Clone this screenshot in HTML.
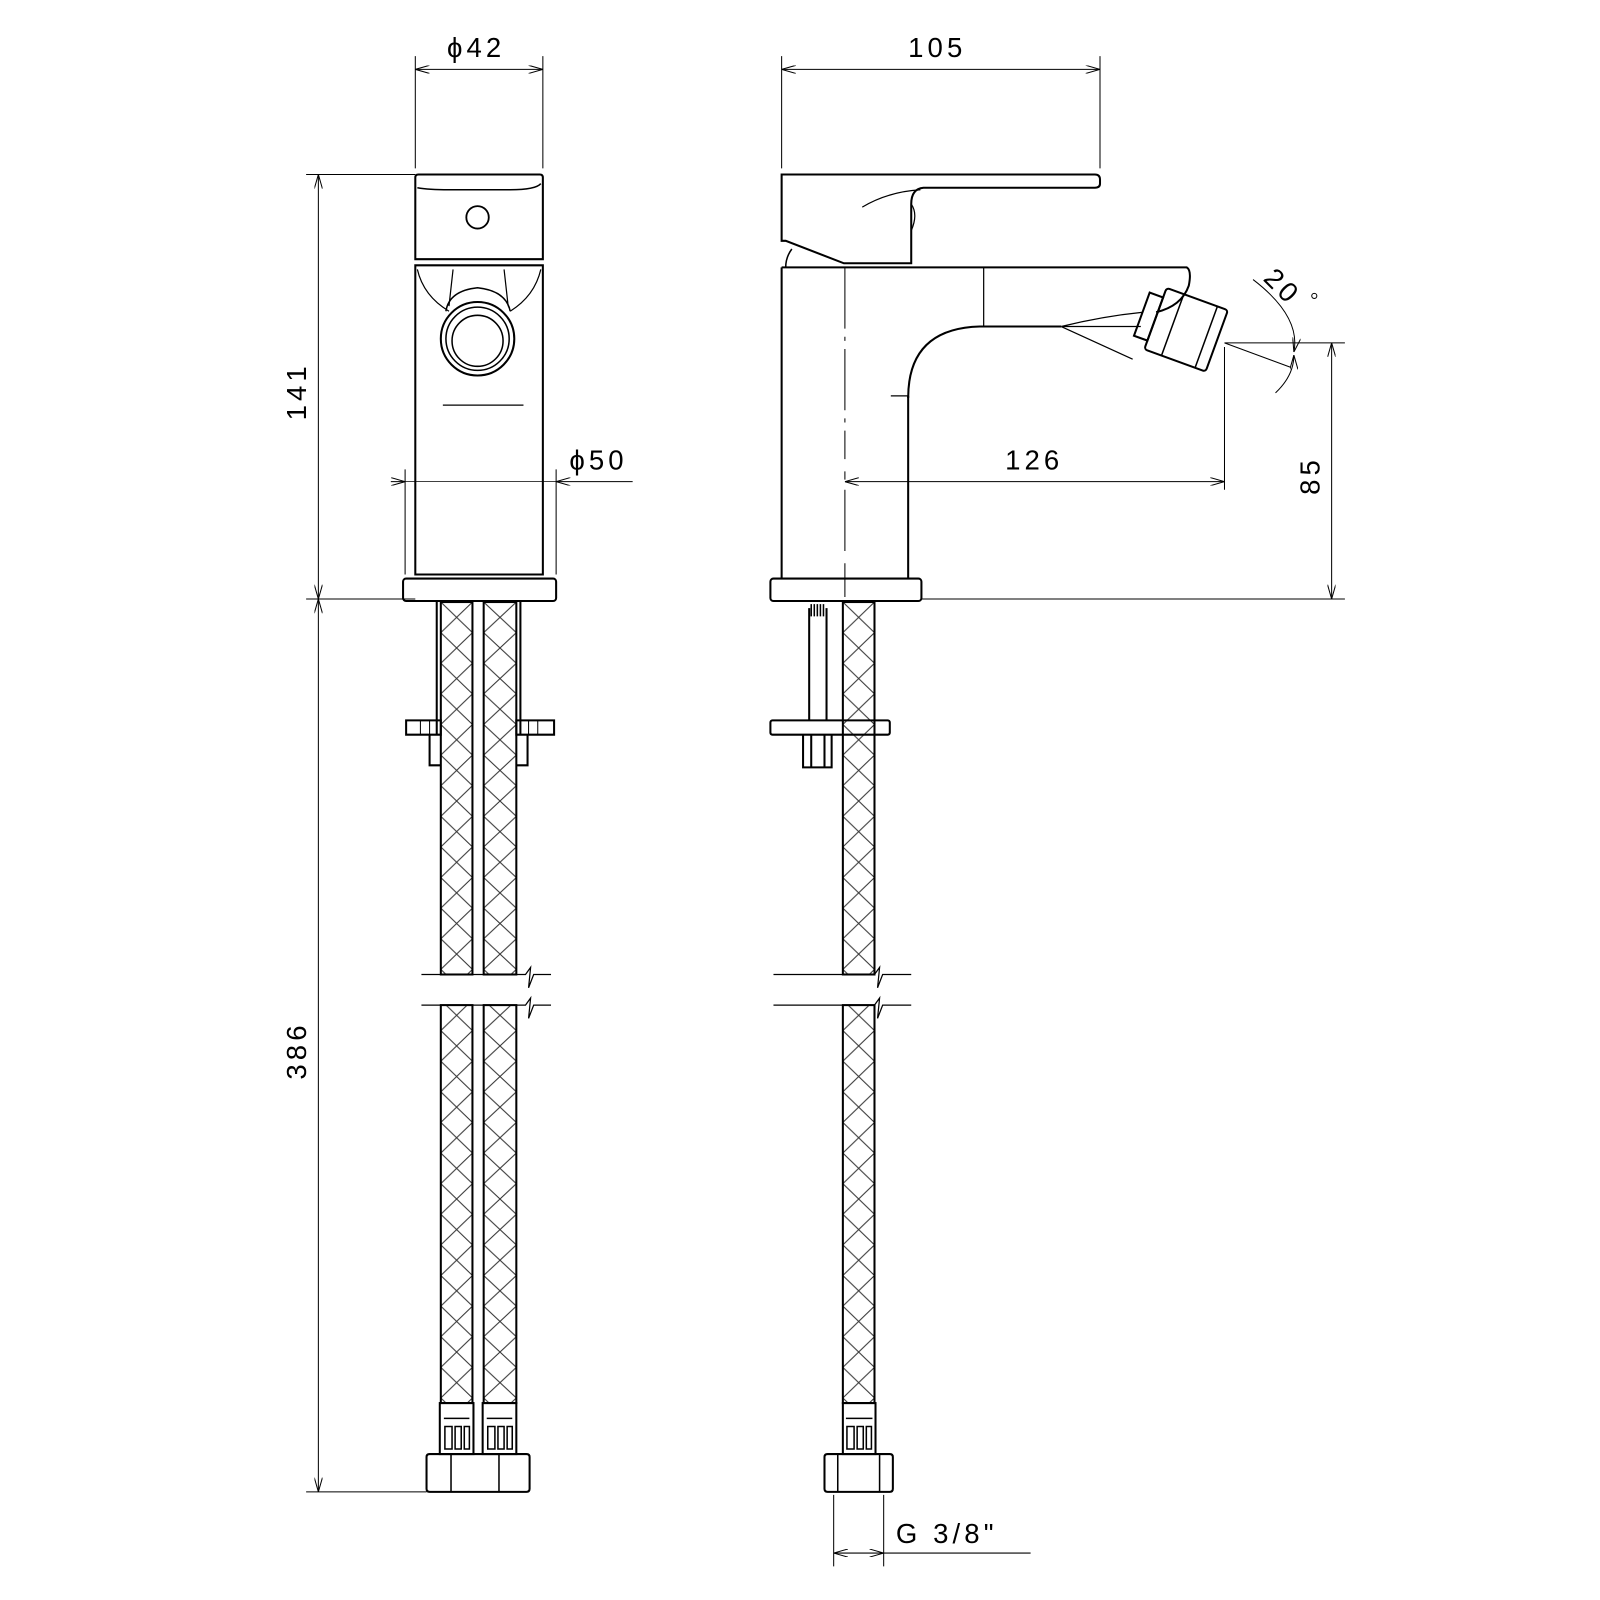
<!DOCTYPE html>
<html><head><meta charset="utf-8"><style>
html,body{margin:0;padding:0;background:#fff}
svg{display:block}
text{font-family:"Liberation Sans",sans-serif;fill:#000}
</style></head><body>
<svg width="1600" height="1600" viewBox="0 0 1568 1568" xmlns="http://www.w3.org/2000/svg">
<defs>
<pattern id="h1" x="432" y="590" width="31" height="30" patternUnits="userSpaceOnUse"><path d="M0 0L31 30M31 0L0 30" stroke="#333" stroke-width="1" fill="none"/></pattern>
<pattern id="h2" x="474" y="590" width="32" height="30" patternUnits="userSpaceOnUse"><path d="M0 0L32 30M32 0L0 30" stroke="#333" stroke-width="1" fill="none"/></pattern>
<pattern id="h3" x="826" y="590" width="31" height="30" patternUnits="userSpaceOnUse"><path d="M0 0L31 30M31 0L0 30" stroke="#333" stroke-width="1" fill="none"/></pattern>
<marker id="a" markerWidth="14" markerHeight="8" refX="14" refY="4" orient="auto" markerUnits="userSpaceOnUse"><path d="M0 0L14 4L0 8" fill="none" stroke="#000" stroke-width="1"/></marker>
<marker id="b" markerWidth="14" markerHeight="8" refX="0" refY="4" orient="auto" markerUnits="userSpaceOnUse"><path d="M14 0L0 4L14 8" fill="none" stroke="#000" stroke-width="1"/></marker>
</defs>

<g fill="none" stroke="#000" stroke-width="1.2">
<path d="M407 55V165M532 55V165" stroke-width="1"/>
<path d="M407 68H532" stroke-width="1" marker-start="url(#b)" marker-end="url(#a)"/>
<path d="M300 171H407M300 587H407M300 1462H418" stroke-width="1"/>
<path d="M312 171V587" stroke-width="1" marker-start="url(#b)" marker-end="url(#a)"/>
<path d="M312 587V1462" stroke-width="1" marker-start="url(#b)" marker-end="url(#a)"/>
<path d="M397 460V563M545 460V563" stroke-width="1"/>
<path d="M383 472H397" stroke-width="1" marker-end="url(#a)"/>
<path d="M620 472H545" stroke-width="1" marker-end="url(#a)"/>
<path d="M397 472H545" stroke-width="0.8"/>

<path d="M407 174Q407 171 410 171H529Q532 171 532 174V254H407Z" stroke-width="2"/>
<path d="M409 184Q420 186 440 186H500Q525 186 530 180" stroke-width="1.5"/>
<circle cx="468" cy="213" r="11" stroke-width="1.8"/>
<path d="M407 260H532V563H407Z" stroke-width="2"/>
<path d="M409 264Q415 290 440 305M530 264Q524 290 500 305M444 264L440 300M494 264L498 300" stroke-width="1.2"/>
<path d="M437 305Q440 285 468 282Q496 285 500 305" stroke-width="1.5"/>
<circle cx="468" cy="332" r="36" stroke-width="2"/>
<circle cx="468" cy="332" r="31" stroke-width="1.5"/>
<circle cx="468" cy="334" r="25" stroke-width="1.5"/>
<path d="M434 397H513" stroke-width="1.2"/>
<rect x="395" y="567" width="150" height="22" rx="3" stroke-width="2"/>

<rect x="432" y="590" width="31" height="365" fill="url(#h1)" stroke-width="2"/>
<rect x="474" y="590" width="32" height="365" fill="url(#h2)" stroke-width="2"/>
<rect x="432" y="985" width="31" height="390" fill="url(#h1)" stroke-width="2"/>
<rect x="474" y="985" width="32" height="390" fill="url(#h2)" stroke-width="2"/>
<path d="M428 590V720M510 590V720" stroke-width="2"/>
<path d="M398 706H432V720H398Z M506 706H543V720H506Z" stroke-width="2"/>
<path d="M412 706V720M421 706V720M518 706V720M527 706V720" stroke-width="1"/>
<path d="M421 720V750H432M517 720V750H506" stroke-width="2"/>
<path d="M413 955H515L520 948L518 968L523 955H540M413 985H515L520 978L518 998L523 985H540" stroke-width="1.2"/>
<rect x="431" y="1375" width="33" height="50" stroke-width="2"/>
<rect x="473" y="1375" width="33" height="50" stroke-width="2"/>
<path d="M435 1390H460M477 1390H502" stroke-width="1.5"/>
<path d="M436 1398h7v22h-7zM446 1398h6v22h-6zM455 1398h5v22h-5zM478 1398h7v22h-7zM488 1398h6v22h-6zM497 1398h5v22h-5z" stroke-width="1.5"/>
<path d="M421 1425H516Q519 1425 519 1428V1459Q519 1462 516 1462H421Q418 1462 418 1459V1428Q418 1425 421 1425Z" stroke-width="2"/>
<path d="M442 1425V1462M489 1425V1462" stroke-width="1.5"/>

<path d="M766 55V165M1078 55V165" stroke-width="1"/>
<path d="M766 68H1078" stroke-width="1" marker-start="url(#b)" marker-end="url(#a)"/>
<path d="M1200 340V480" stroke-width="1"/>
<path d="M828 472H1200" stroke-width="1" marker-start="url(#b)" marker-end="url(#a)"/>
<path d="M1200 336H1318M903 587H1318" stroke-width="1"/>
<path d="M1305 336V587" stroke-width="1" marker-start="url(#b)" marker-end="url(#a)"/>
<path d="M1200 336L1265 360" stroke-width="1"/>
<path d="M1228 274Q1275 310 1268 345" stroke-width="1" marker-end="url(#a)"/>
<path d="M1250 385Q1268 368 1268 348" stroke-width="1" marker-end="url(#a)"/>
<path d="M817 1465V1535M866 1465V1535" stroke-width="1"/>
<path d="M817 1522H866" stroke-width="1" marker-start="url(#b)" marker-end="url(#a)"/>
<path d="M866 1522H1010" stroke-width="1"/>

<path d="M766 171H1073Q1078 171 1078 176V180Q1078 184 1073 184H905Q893 185 893 200V258H827L770 236H766Z" stroke-width="2"/>
<path d="M845 203Q870 188 902 186" stroke-width="1.2"/>
<path d="M893 200Q900 210 893 226" stroke-width="1.2"/>
<path d="M776 244Q770 252 770 262" stroke-width="1.5"/>
<path d="M766 262H1163Q1168 265 1165 280Q1158 300 1133 306" stroke-width="2"/>
<path d="M766 262V567M890 388V567" stroke-width="2"/>
<path d="M890 390Q890 322 960 320H1040" stroke-width="2"/>
<path d="M964 262V320" stroke-width="1.2"/>
<path d="M873 388H890" stroke-width="1.2"/>
<path d="M1040 320Q1080 310 1120 306M1040 320L1110 352M1040 320H1118" stroke-width="1.2"/>
<g transform="rotate(20 1160 318)">
<rect x="1118" y="300" width="14" height="45" stroke-width="2"/>
<rect x="1132" y="290" width="64" height="64" rx="3" stroke-width="2"/>
<path d="M1150 290V354M1185 290V354" stroke-width="1.5"/>
</g>
<path d="M828 262V450M828 462V470M828 480V540M828 552V585" stroke-width="1" stroke-dasharray="60 8 4 8"/>
<rect x="755" y="567" width="148" height="22" rx="3" stroke-width="2"/>
<rect x="826" y="590" width="31" height="365" fill="url(#h3)" stroke-width="2"/>
<rect x="826" y="985" width="31" height="390" fill="url(#h3)" stroke-width="2"/>
<path d="M793 596V706M810 596V706" stroke-width="2"/>
<path d="M795 592V604M798 592V604M801 592V604M804 592V604M807 592V604" stroke-width="1.5"/>
<rect x="755" y="706" width="117" height="14" rx="2" stroke-width="2"/>
<path d="M787 720V752H815V720M795 720V752M808 720V752" stroke-width="2"/>
<path d="M758 955H857L862 948L860 968L865 955H893M758 985H857L862 978L860 998L865 985H893" stroke-width="1.2"/>
<rect x="826" y="1375" width="32" height="50" stroke-width="2"/>
<path d="M829 1390H855M830 1398h7v22h-7zM840 1398h6v22h-6zM849 1398h5v22h-5z" stroke-width="1.5"/>
<path d="M811 1425H872Q875 1425 875 1428V1459Q875 1462 872 1462H811Q808 1462 808 1459V1428Q808 1425 811 1425Z" stroke-width="2"/>
<path d="M821 1425V1462M862 1425V1462" stroke-width="1.5"/>
</g>

<g font-size="27" letter-spacing="4">
<text x="438" y="56">ϕ42</text>
<text x="890" y="56">105</text>
<text x="558" y="460">ϕ50</text>
<text x="985" y="460">126</text>
<text x="878" y="1512">G  3/8"</text>
<text transform="translate(300 412) rotate(-90)">141</text>
<text transform="translate(300 1058) rotate(-90)">386</text>
<text transform="translate(1293 485) rotate(-90)">85</text>
<text transform="translate(1237 274) rotate(45)">20</text>
</g>
<circle cx="1288" cy="290" r="2.5" fill="none" stroke="#000" stroke-width="1"/>
</svg>
</body></html>
